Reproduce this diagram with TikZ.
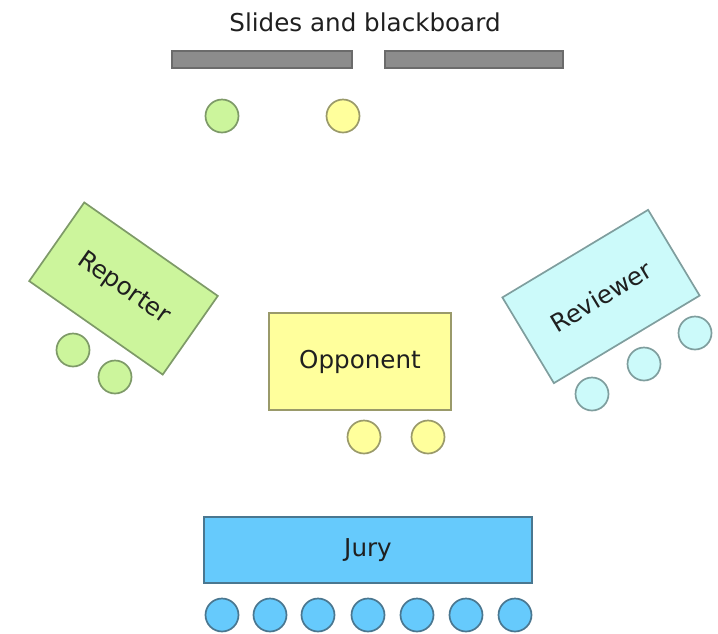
\documentclass[tikz,border=0pt]{standalone}
\usepackage{fontspec}
\setmainfont{DejaVu Sans}
\begin{document}
\begin{tikzpicture}[x=1pt,y=-1pt,
  lbl/.style={font=\fontsize{24.6}{28}\selectfont, text=black!88},
  desk/.style={draw, line width=1.7pt, inner sep=0pt, lbl},
  seat/.style={circle, draw, line width=1.7pt, minimum size=33pt, inner sep=0pt},
  board/.style={draw=black!58, fill=black!45, line width=1.4pt, inner sep=0pt, minimum height=17pt},
  grn/.style={fill=rptfill, draw=rptline},
  ylw/.style={fill=oppfill, draw=oppline},
  cyn/.style={fill=revfill, draw=revline},
  blu/.style={fill=jryfill, draw=jryline}]
\definecolor{rptfill}{HTML}{CCF59C}
\definecolor{rptline}{HTML}{7E9A68}
\definecolor{oppfill}{HTML}{FFFF9C}
\definecolor{oppline}{HTML}{9A9A6A}
\definecolor{revfill}{HTML}{CCFAFA}
\definecolor{revline}{HTML}{7F9E9E}
\definecolor{jryfill}{HTML}{66CAFC}
\definecolor{jryline}{HTML}{4A7790}
\useasboundingbox (0,0) rectangle (718,633);

% front: slides and blackboard
\node[lbl] (title) at (365,22) {Slides and blackboard};
\node[board, minimum width=180pt] (slides) at (262,59.5) {};
\node[board, minimum width=178pt] (blackboard) at (474,59.5) {};
\node[seat, grn] (rptfront) at (222,116) {};
\node[seat, ylw] (oppfront) at (343,116) {};

% reporter desk
\node[desk, grn, minimum width=163pt, minimum height=96pt, rotate=-35] (reporter) at (123.5,288.5) {Reporter};
\node[seat, grn] (rpt1) at (73,350) {};
\node[seat, grn] (rpt2) at (115,377) {};

% opponent desk
\node[desk, ylw, minimum width=182pt, minimum height=97pt] (opponent) at (360,361.5) {Opponent};
\node[seat, ylw] (opp1) at (364,437) {};
\node[seat, ylw] (opp2) at (428,437) {};

% reviewer desk
\node[desk, cyn, minimum width=170pt, minimum height=100pt, rotate=31] (reviewer) at (601,296.5) {Reviewer};
\node[seat, cyn] (rev1) at (592,394) {};
\node[seat, cyn] (rev2) at (644,364) {};
\node[seat, cyn] (rev3) at (695,333) {};

% jury table
\node[desk, blu, minimum width=328pt, minimum height=66pt] (jury) at (368,550) {Jury};
\foreach \i/\x in {1/222,2/270,3/318,4/368,5/417,6/466,7/515}
  \node[seat, blu] (jur\i) at (\x,615) {};
\end{tikzpicture}
\end{document}
